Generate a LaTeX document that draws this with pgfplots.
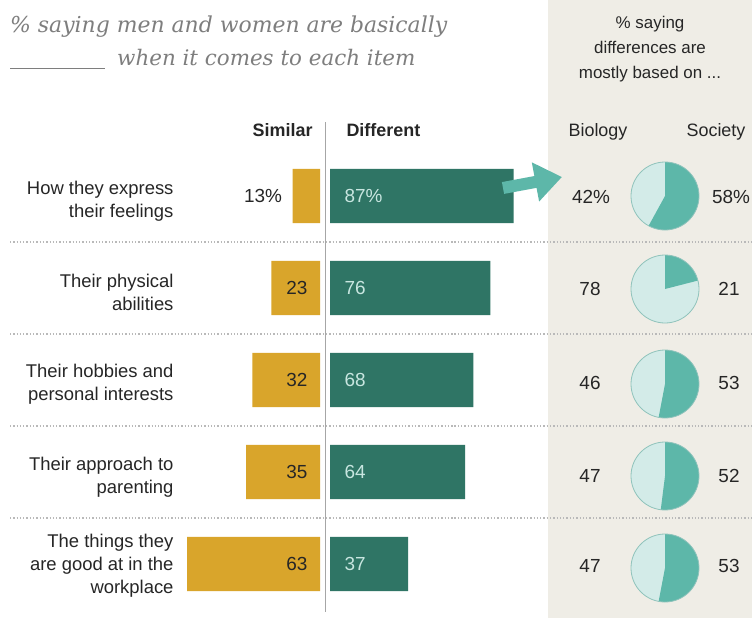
\documentclass[border=0pt]{standalone}
\usepackage{fontspec}
\setmainfont{Liberation Sans}
\newfontfamily\titlefont{DejaVu Serif}
\usepackage{pgfplots}
\pgfplotsset{compat=1.18}
\usetikzlibrary{arrows.meta}

\definecolor{gold}{HTML}{D9A52B}
\definecolor{diffteal}{HTML}{2F7565}
\definecolor{arrowteal}{HTML}{5DB7A9}
\definecolor{pieDark}{HTML}{5DB7A9}
\definecolor{pieLight}{HTML}{D3EBE8}
\definecolor{pieEdge}{HTML}{8FC3BB}
\definecolor{panel}{HTML}{EFEDE6}
\definecolor{txt}{HTML}{262626}
\definecolor{titlegray}{HTML}{7E7E7E}
\definecolor{difflabel}{HTML}{C8E6E0}

% pie: centre y (pixels), society share
\newcommand{\pie}[2]{%
  \fill[pieLight] (axis cs:665,#1) circle[radius=34bp];
  \fill[pieDark] (axis cs:665,#1) -- ++(0bp,34bp)
    arc[start angle=90, end angle={90-3.6*#2}, radius=34bp] -- cycle;
  \draw[pieEdge, line width=0.8bp] (axis cs:665,#1) circle[radius=34bp];
}

\begin{document}
\begin{tikzpicture}
\useasboundingbox (0,0) rectangle (752bp,618bp);

% frame in pixel units
\begin{axis}[at={(0,0)}, anchor=south west, scale only axis,
  width=752bp, height=618bp, xmin=0, xmax=752, ymin=0, ymax=618,
  y dir=reverse, hide axis, clip=false]
\fill[white] (axis cs:0,0) rectangle (axis cs:752,618);
\fill[panel] (axis cs:548,0) rectangle (axis cs:752,618);
\pgfplotsinvokeforeach{242,334,426,518}{
  \draw[gray!55, dotted, line width=1.3bp] (axis cs:10,#1) -- (axis cs:752,#1);
}
\draw[gray!70, line width=0.9bp] (axis cs:325,122) -- (axis cs:325,612);

% title
\node[anchor=base west, inner sep=0pt, text=titlegray, font=\titlefont\itshape\fontsize{22}{26}\selectfont]
  at (axis cs:10,33) {\% saying men and women are basically};
\draw[titlegray, line width=0.9bp] (axis cs:10,68) -- (axis cs:105,68);
\node[anchor=base west, inner sep=0pt, text=titlegray, font=\titlefont\itshape\fontsize{21.5}{26}\selectfont]
  at (axis cs:117,66) {when it comes to each item};

% panel header
\node[anchor=base, text=txt, font=\fontsize{17}{20}\selectfont] at (axis cs:650,29) {\% saying};
\node[anchor=base, text=txt, font=\fontsize{17}{20}\selectfont] at (axis cs:650,54) {differences are};
\node[anchor=base, text=txt, font=\fontsize{17}{20}\selectfont] at (axis cs:650,79) {mostly based on ...};
\node[anchor=base, text=txt, font=\fontsize{18}{21}\selectfont] at (axis cs:598,136) {Biology};
\node[anchor=base, text=txt, font=\fontsize{18}{21}\selectfont] at (axis cs:716,136) {Society};

% column headers
\node[anchor=base east, text=txt, font=\bfseries\fontsize{18}{21}\selectfont] at (axis cs:316,136) {Similar};
\node[anchor=base west, text=txt, font=\bfseries\fontsize{18}{21}\selectfont] at (axis cs:343,136) {Different};

% category labels
\begin{scope}[every node/.style={anchor=east, align=right, text=txt,
    font=\fontsize{18.5}{23}\selectfont}]
\node at (axis cs:177,201) {How they express\\their feelings};
\node at (axis cs:177,292) {Their physical\\abilities};
\node at (axis cs:177,384) {Their hobbies and\\personal interests};
\node at (axis cs:177,477) {Their approach to\\parenting};
\node at (axis cs:177,566) {The things they\\are good at in the\\workplace};
\end{scope}

% pies (society share)
\pie{196}{58}
\pie{289}{21}
\pie{384}{53}
\pie{476}{52}
\pie{568}{53}

\begin{scope}[every node/.style={anchor=center, text=txt, font=\fontsize{19}{22}\selectfont}]
\node at (axis cs:591,197) {42\%};
\node at (axis cs:731,197) {58\%};
\node at (axis cs:590,289) {78};
\node at (axis cs:729,289) {21};
\node at (axis cs:590,383) {46};
\node at (axis cs:729,383) {53};
\node at (axis cs:590,476) {47};
\node at (axis cs:729,476) {52};
\node at (axis cs:590,566) {47};
\node at (axis cs:729,566) {53};
\end{scope}
\end{axis}

% Similar bars (growing left)
\begin{axis}[at={(320bp,468bp)}, anchor=north east, scale only axis,
  width=211bp, height=460bp, xmin=0, xmax=100, ymin=0.5, ymax=5.5,
  x dir=reverse, y dir=reverse, hide axis, clip=false,
  xbar, bar width=0.59]
\addplot[fill=gold, draw=none] coordinates {(13,1) (23,2) (32,3) (35,4) (63,5)};
\begin{scope}[every node/.style={anchor=east, text=txt, font=\fontsize{19}{22}\selectfont}]
\node[xshift=-7bp] at (axis cs:13,1) {13\%};
\node[xshift=-9bp] at (axis cs:0,2) {23};
\node[xshift=-9bp] at (axis cs:0,3) {32};
\node[xshift=-9bp] at (axis cs:0,4) {35};
\node[xshift=-9bp] at (axis cs:0,5) {63};
\end{scope}
\end{axis}

% Different bars (growing right)
\begin{axis}[at={(330bp,468bp)}, anchor=north west, scale only axis,
  width=211bp, height=460bp, xmin=0, xmax=100, ymin=0.5, ymax=5.5,
  y dir=reverse, hide axis, clip=false,
  xbar, bar width=0.59]
\addplot[fill=diffteal, draw=none] coordinates {(87,1) (76,2) (68,3) (64,4) (37,5)};
\begin{scope}[every node/.style={anchor=west, text=difflabel, font=\fontsize{19}{22}\selectfont}]
\node[xshift=11bp] at (axis cs:0,1) {87\%};
\node[xshift=11bp] at (axis cs:0,2) {76};
\node[xshift=11bp] at (axis cs:0,3) {68};
\node[xshift=11bp] at (axis cs:0,4) {64};
\node[xshift=11bp] at (axis cs:0,5) {37};
\end{scope}
\end{axis}

% arrow from the first bar to the pies
\draw[arrowteal, line width=12bp, -{Triangle[length=27bp, width=38bp]}]
  (503bp,430bp) -- (562bp,441bp);
\end{tikzpicture}
\end{document}
